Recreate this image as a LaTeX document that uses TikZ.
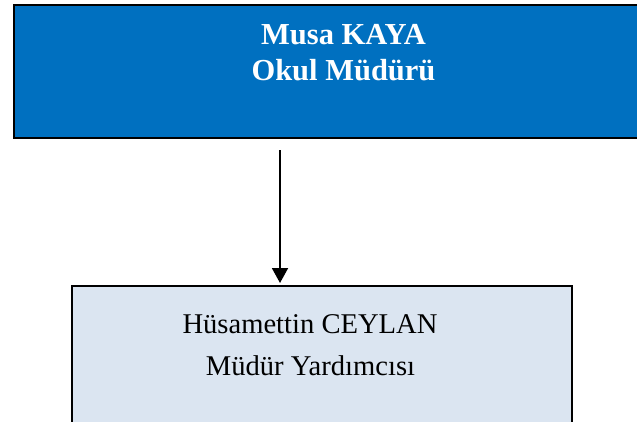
\documentclass[tikz,border=0pt]{standalone}
\usepackage{fontspec}
\setmainfont{Liberation Serif}
\usetikzlibrary{arrows.meta}
\definecolor{boxblue}{HTML}{0070C0}
\definecolor{paleblue}{HTML}{DBE5F1}
\begin{document}
\begin{tikzpicture}[x=1pt,y=1pt,
  topbox/.style={draw=black,line width=2.3pt,fill=boxblue,inner sep=0pt},
  lowbox/.style={draw=black,line width=2pt,fill=paleblue,inner sep=0pt},
  toptext/.style={text=white,font=\fontsize{30.5}{36}\selectfont\bfseries,anchor=base,inner sep=0pt},
  lowtext/.style={text=black,font=\fontsize{28.6}{34}\selectfont,anchor=base,inner sep=0pt},
  arr/.style={line width=1.9pt,-{Triangle[width=16pt,length=15pt]}}]
\useasboundingbox (0,0) rectangle (637,-422);
\clip (0,0) rectangle (637,-422);
\node[topbox,minimum width=658,minimum height=133] (director) at (343,-71.5) {};
\node[lowbox,minimum width=500,minimum height=200] (deputy) at (322,-386) {};
\node[toptext] (name1) at (343.5,-45) {Musa KAYA};
\node[toptext] (title1) at (343.5,-81) {Okul Müdürü};
\node[lowtext] (name2) at (310,-333) {Hüsamettin CEYLAN};
\node[lowtext] (title2) at (310.5,-375) {Müdür Yardımcısı};
\coordinate (arrowx) at (280,0);
\draw[arr] ([yshift=-11pt]director.south -| arrowx) -- ([yshift=2pt]deputy.north -| arrowx);
\end{tikzpicture}
\end{document}
